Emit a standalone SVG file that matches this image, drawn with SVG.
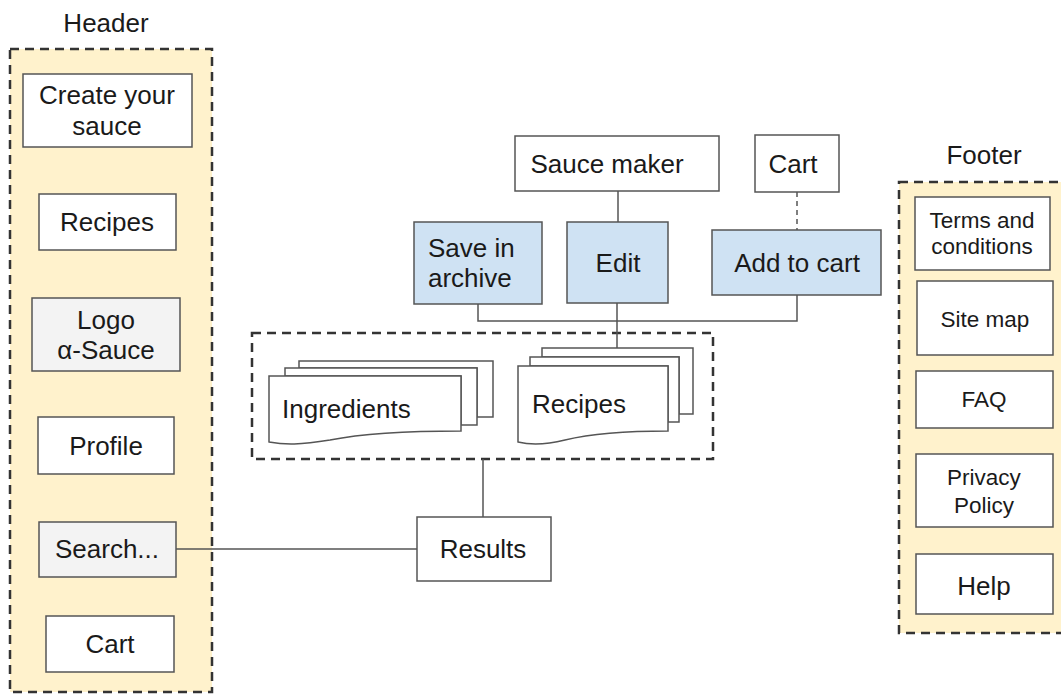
<svg xmlns="http://www.w3.org/2000/svg" width="1061" height="694" viewBox="0 0 1061 694">
<style>
text{font-family:"Liberation Sans",Arial,sans-serif;font-size:26px;fill:#1a1a1a}
.c{text-anchor:middle}
.s{font-size:22.5px}
.box{fill:#fff;stroke:#555;stroke-width:1.5}
.gray{fill:#f3f3f3;stroke:#555;stroke-width:1.5}
.blue{fill:#cfe2f3;stroke:#555;stroke-width:1.5}
.grp{fill:#fff2cc;stroke:#333;stroke-width:2.5;stroke-dasharray:9,6}
.dash{fill:none;stroke:#333;stroke-width:2.5;stroke-dasharray:9,6}
.doc{fill:#fff;stroke:#555;stroke-width:1.5}
.ln{fill:none;stroke:#555;stroke-width:1.5}
</style>
<rect width="1061" height="694" fill="#fff"/>
<g id="header">
<rect class="grp" x="10" y="49" width="202" height="643"/>
<text class="c" x="106" y="32">Header</text>
</g>
<g id="footer">
<rect class="grp" x="899" y="182" width="180" height="451"/>
<text class="c" x="984" y="164">Footer</text>
</g>
<g id="data-group">
<rect class="dash" x="252" y="333" width="461" height="126"/>
</g>
<g id="connectors">
<path class="ln" d="M618,191 V222"/>
<path class="ln" d="M797,192 V230" stroke-dasharray="5,4"/>
<path class="ln" d="M478,304 V321 H797 V295"/>
<path class="ln" d="M617,303 V348"/>
<path class="ln" d="M483,459 V517"/>
<path class="ln" d="M176,549 H417"/>
</g>
<g id="create-sauce"><rect class="box" x="23" y="74" width="169" height="73"/><text class="c" x="107" y="104">Create your</text><text class="c" x="107" y="135">sauce</text></g>
<g id="recipes-h"><rect class="box" x="39" y="194" width="137" height="56"/><text class="c" x="107" y="231">Recipes</text></g>
<g id="logo"><rect class="gray" x="32" y="298" width="148" height="73"/><text class="c" x="106" y="329">Logo</text><text class="c" x="106" y="359">α-Sauce</text></g>
<g id="profile"><rect class="box" x="38" y="417" width="136" height="57"/><text class="c" x="106" y="455">Profile</text></g>
<g id="search"><rect class="gray" x="39" y="522" width="137" height="55"/><text class="c" x="107" y="558">Search...</text></g>
<g id="cart-h"><rect class="box" x="46" y="616" width="128" height="56"/><text class="c" x="110" y="653">Cart</text></g>
<g id="sauce-maker"><rect class="box" x="515" y="136" width="204" height="55"/><text class="c" x="607" y="173">Sauce maker</text></g>
<g id="cart-top"><rect class="box" x="755" y="135" width="84" height="57"/><text class="c" x="793" y="173">Cart</text></g>
<g id="save-archive"><rect class="blue" x="414" y="222" width="128" height="82"/><text x="428" y="257">Save in</text><text x="428" y="287">archive</text></g>
<g id="edit"><rect class="blue" x="567" y="222" width="101" height="81"/><text class="c" x="618" y="272">Edit</text></g>
<g id="add-to-cart"><rect class="blue" x="712" y="230" width="169" height="65"/><text class="c" x="797" y="272">Add to cart</text></g>
<g id="ingredients">
<path class="doc" d="M299,361 H493 V417 H477 V368 H299 Z"/>
<path class="doc" d="M285,368 H477 V425 H461 V376 H285 Z"/>
<path class="doc" d="M269,376 H461 V431 C400,431 360,434 330,440 C300,445 285,445 269,442 Z"/>
<text x="282" y="418">Ingredients</text>
</g>
<g id="recipes-docs">
<path class="doc" d="M542,348 H693 V414 H679 V357 H542 Z"/>
<path class="doc" d="M530,357 H679 V422 H668 V366 H530 Z"/>
<path class="doc" d="M518,366 H668 V431 C620,431 590,434 565,440 C545,445 530,445 518,442 Z"/>
<text x="532" y="413">Recipes</text>
</g>
<g id="results"><rect class="box" x="417" y="517" width="134" height="64"/><text class="c" x="483" y="558">Results</text></g>
<g id="terms"><rect class="box" x="915" y="197" width="135" height="73"/><text class="c s" x="982" y="228">Terms and</text><text class="c s" x="982" y="254">conditions</text></g>
<g id="sitemap"><rect class="box" x="917" y="281" width="136" height="74"/><text class="c s" x="985" y="327">Site map</text></g>
<g id="faq"><rect class="box" x="916" y="371" width="137" height="57"/><text class="c s" x="984" y="407">FAQ</text></g>
<g id="privacy"><rect class="box" x="916" y="454" width="137" height="73"/><text class="c s" x="984" y="485">Privacy</text><text class="c s" x="984" y="513">Policy</text></g>
<g id="help"><rect class="box" x="916" y="554" width="137" height="60"/><text class="c" x="984" y="595">Help</text></g>
</svg>
